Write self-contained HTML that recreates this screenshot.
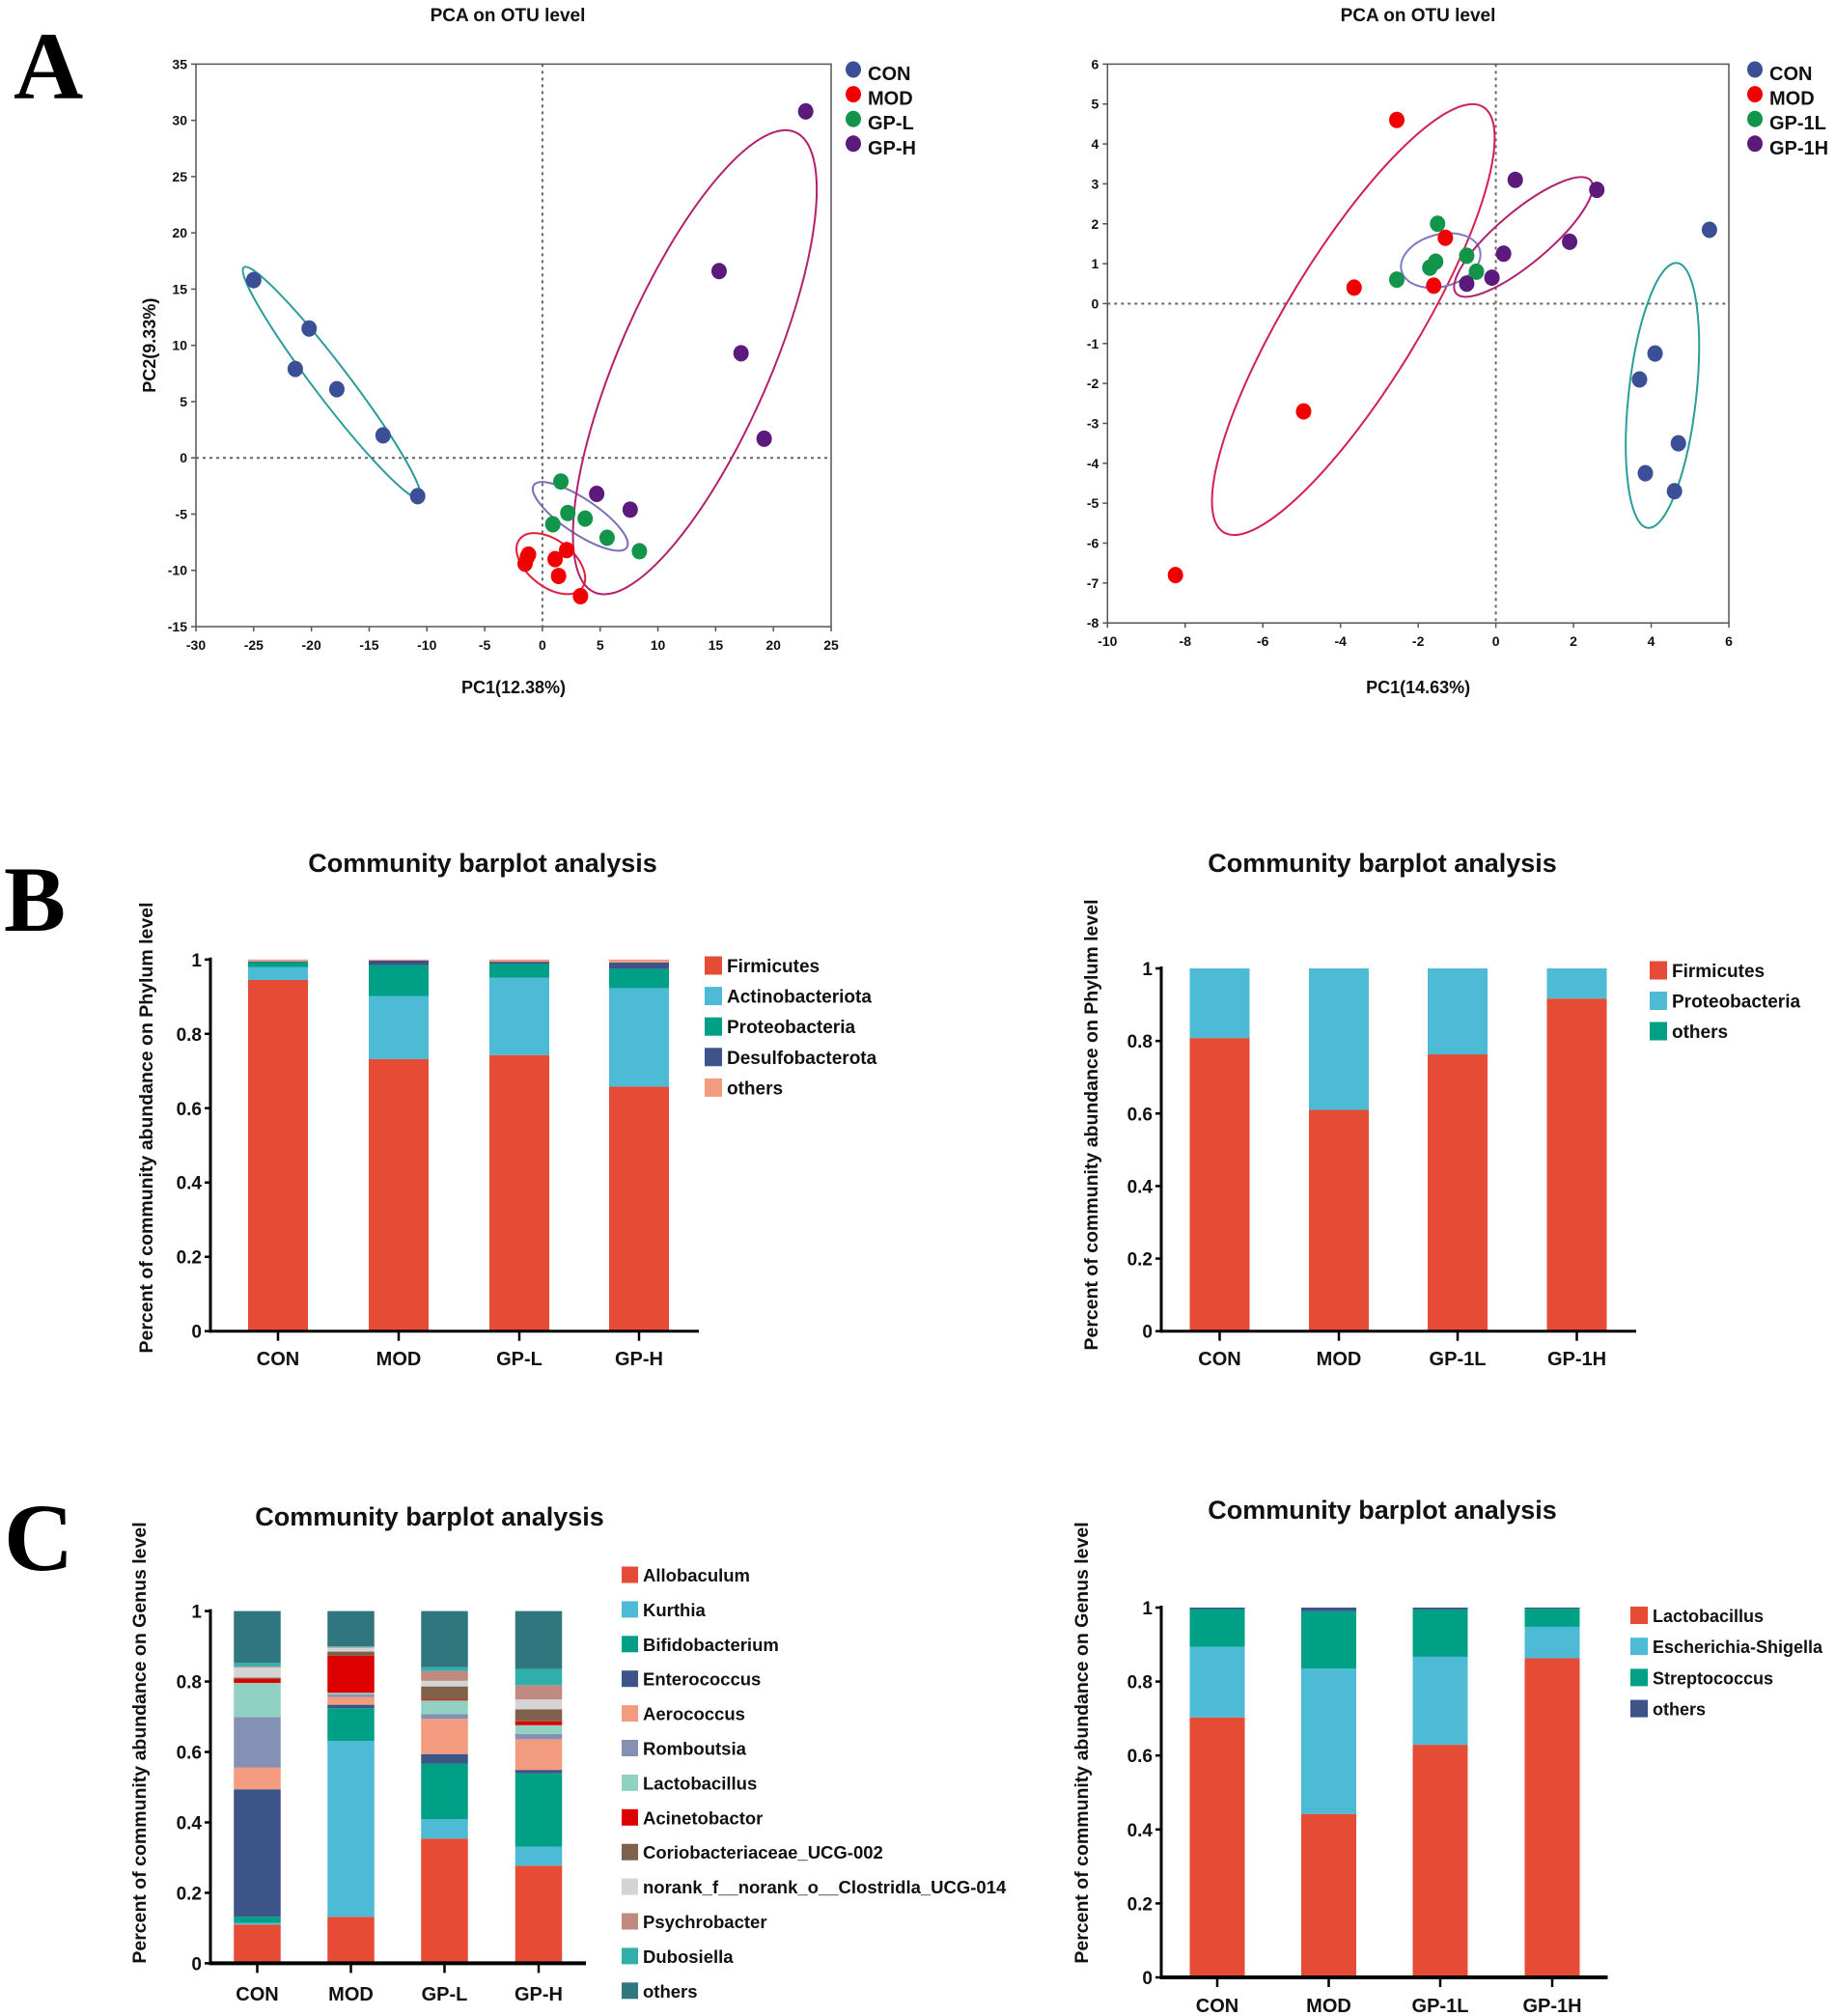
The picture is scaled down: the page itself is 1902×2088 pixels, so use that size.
<!DOCTYPE html>
<html><head><meta charset="utf-8">
<style>
html,body{margin:0;padding:0;background:#fff;}
svg{display:block;}
text{font-family:"Liberation Sans Narrow","Liberation Sans",Arial,sans-serif;font-weight:bold;fill:#111;}
.wide{font-family:"Liberation Sans",Arial,sans-serif;}
.big{font-family:"Liberation Serif","Times New Roman",serif;font-weight:bold;fill:#000;}
</style></head>
<body>
<svg id="fig" width="1902" height="2088" viewBox="0 0 1902 2088" xmlns="http://www.w3.org/2000/svg">
<text class="big" x="14" y="102" font-size="100">A</text>
<text class="big" x="4" y="964" font-size="96">B</text>
<text class="big" x="4" y="1626" font-size="100">C</text>
</svg>
<script>
// ---------- PCA data (left) ----------
const pcaLeftGroups = ["CON","MOD","GP-L","GP-H"];
const pcaLeftCON_x = [-25,-20.2,-21.4,-17.8,-13.8,-10.8];
const pcaLeftCON_y = [15.8,11.5,7.9,6.1,2,-3.4];
const pcaLeftMOD_x = [-1.3,-1.5,1.1,2.1,1.4,3.3,-1.2];
const pcaLeftMOD_y = [-8.8,-9.4,-9,-8.2,-10.5,-12.3,-8.6];
const pcaLeftGPL_x = [1.6,2.2,3.7,0.9,5.6,8.4];
const pcaLeftGPL_y = [-2.1,-4.9,-5.4,-5.9,-7.1,-8.3];
const pcaLeftGPH_x = [22.8,15.3,17.2,19.2,4.7,7.6];
const pcaLeftGPH_y = [30.8,16.6,9.3,1.7,-3.2,-4.6];
const pcaLeftXTicks = [-30,-25,-20,-15,-10,-5,0,5,10,15,20,25];
const pcaLeftYTicks = [-15,-10,-5,0,5,10,15,20,25,30,35];
const pcaLeftEllCx = [-18.25,0.73,3.28,13.2];
const pcaLeftEllCy = [6.7,-9.4,-5.2,8.5];

// ---------- PCA data (right) ----------
const pcaRightGroups = ["CON","MOD","GP-1L","GP-1H"];
const pcaRightCON_x = [5.5,4.1,3.7,4.7,3.85,4.6];
const pcaRightCON_y = [1.85,-1.25,-1.9,-3.5,-4.25,-4.7];
const pcaRightMOD_x = [-2.55,-3.65,-1.3,-1.6,-4.95,-8.25];
const pcaRightMOD_y = [4.6,0.4,1.65,0.45,-2.7,-6.8];
const pcaRightGPL_x = [-1.5,-1.55,-1.7,-0.75,-0.5,-2.55];
const pcaRightGPL_y = [2.0,1.05,0.9,1.2,0.8,0.6];
const pcaRightGPH_x = [0.5,2.6,1.9,0.2,-0.1,-0.75];
const pcaRightGPH_y = [3.1,2.85,1.55,1.25,0.65,0.5];
const pcaRightXTicks = [-10,-8,-6,-4,-2,0,2,4,6];
const pcaRightYTicks = [-8,-7,-6,-5,-4,-3,-2,-1,0,1,2,3,4,5,6];
const pcaRightEllCx = [4.29,-3.67,-1.42,0.71];
const pcaRightEllCy = [-2.30,-0.40,1.08,1.67];

// ---------- Bar B left ----------
const bLeftCats = ["CON","MOD","GP-L","GP-H"];
const bLeftSeriesNames = ["Firmicutes","Actinobacteriota","Proteobacteria","Desulfobacterota","others"];
const bLeftFirmicutes = [0.945,0.732,0.743,0.658];
const bLeftActino = [0.035,0.170,0.208,0.265];
const bLeftProteo = [0.013,0.083,0.037,0.052];
const bLeftDesulfo = [0.002,0.012,0.006,0.017];
const bLeftOthers = [0.005,0.003,0.006,0.008];
// ---------- Bar B right ----------
const bRightCats = ["CON","MOD","GP-1L","GP-1H"];
const bRightSeriesNames = ["Firmicutes","Proteobacteria","others"];
const bRightFirmicutes = [0.808,0.610,0.763,0.917];
const bRightProteo = [0.192,0.390,0.237,0.083];
const bRightOthers = [0,0,0,0];
// ---------- Bar C left ----------
const cLeftCats = ["CON","MOD","GP-L","GP-H"];
const cLeftSeriesNames = ["Allobaculum","Kurthia","Bifidobacterium","Enterococcus","Aerococcus","Romboutsia","Lactobacillus","Acinetobactor","Coriobacteriaceae_UCG-002","norank_f__norank_o__Clostridla_UCG-014","Psychrobacter","Dubosiella","others"];
const cLeftCON = [0.110,0.005,0.017,0.362,0.062,0.143,0.097,0.012,0.003,0.029,0.003,0.010,0.147];
const cLeftMOD = [0.132,0.499,0.093,0.010,0.022,0.007,0.005,0.105,0.012,0.011,0.002,0.002,0.100];
const cLeftGPL = [0.354,0.055,0.158,0.027,0.100,0.013,0.039,0.003,0.037,0.016,0.028,0.011,0.159];
const cLeftGPH = [0.277,0.054,0.208,0.010,0.087,0.015,0.025,0.011,0.034,0.028,0.041,0.046,0.164];
// ---------- Bar C right ----------
const cRightCats = ["CON","MOD","GP-1L","GP-1H"];
const cRightSeriesNames = ["Lactobacillus","Escherichia-Shigella","Streptococcus","others"];
const cRightLacto = [0.703,0.442,0.629,0.863];
const cRightEsch = [0.191,0.393,0.238,0.085];
const cRightStrep = [0.102,0.155,0.128,0.049];
const cRightOthers = [0.004,0.010,0.005,0.003];
const barTicks = ["0","0.2","0.4","0.6","0.8","1"];

const NS = "http://www.w3.org/2000/svg";
const svg = document.getElementById("fig");
function mk(tag, attrs, parent, txt){
  const e = document.createElementNS(NS, tag);
  for (const k in attrs) e.setAttribute(k, attrs[k]);
  if (txt !== undefined) e.textContent = txt;
  (parent || svg).appendChild(e);
  return e;
}
function scale(d0,d1,p0,p1){ return v => p0 + (v-d0)*(p1-p0)/(d1-d0); }

function drawPCA(o){
  const g = mk("g",{});
  
  
  const X = scale(o.xd[0],o.xd[1],o.px[0],o.px[1]);
  const Y = scale(o.yd[0],o.yd[1],o.py[0],o.py[1]);
  const box = mk("rect",{x:o.px[0],y:o.py[1],width:o.px[1]-o.px[0],height:o.py[0]-o.py[1],fill:"none",stroke:"#555","stroke-width":1.5},g);
  
  
  const vz = mk("line",{x1:X(0),x2:X(0),y1:o.py[1],y2:o.py[0],stroke:"#666","stroke-width":2,"stroke-dasharray":"3,4"},g);
  
  
  const hz = mk("line",{x1:o.px[0],x2:o.px[1],y1:Y(0),y2:Y(0),stroke:"#666","stroke-width":2,"stroke-dasharray":"3,4"},g);
  
  
  o.xt.forEach(t=>{
    mk("line",{x1:X(t),x2:X(t),y1:o.py[0],y2:o.py[0]+5,stroke:"#555","stroke-width":1.5},g);
    const tl = mk("text",{x:X(t),y:o.py[0]+24,"font-size":14,"text-anchor":"middle"},g,String(t));
    
    
  });
  o.yt.forEach(t=>{
    mk("line",{x1:o.px[0]-5,x2:o.px[0],y1:Y(t),y2:Y(t),stroke:"#555","stroke-width":1.5},g);
    const tl = mk("text",{x:o.px[0]-9,y:Y(t)+5,"font-size":14,"text-anchor":"end"},g,String(t));
    
    
  });
  o.ell.forEach((e,i)=>{
    const cx = X(o.ellCx[i]), cy = Y(o.ellCy[i]);
    const el = mk("ellipse",{cx:0,cy:0,rx:e.rx,ry:e.ry,transform:`translate(${cx},${cy}) rotate(${e.a})`,fill:"none",stroke:e.c,"stroke-width":2},g);
    
    
  });
  o.pts.forEach((p,i)=>{
    p.x.forEach((v,j)=>{
      const c = mk("ellipse",{cx:X(v),cy:Y(p.y[j]),rx:8,ry:8.5,fill:o.colors[i]},g);
      
      
    });
  });
  const tt = mk("text",{x:o.titleX,y:22,"font-size":19,"text-anchor":"middle",class:"wide"},g,"PCA on OTU level");
  
  
  const xl = mk("text",{x:(o.px[0]+o.px[1])/2,y:718,"font-size":18,"text-anchor":"middle",class:"wide"},g,o.xlabel);
  
  
  if (o.ylabel){
    const yl = mk("text",{x:0,y:0,"font-size":18,"text-anchor":"middle",class:"wide",transform:`translate(${o.ylx},${(o.py[0]+o.py[1])/2}) rotate(-90)`},g,o.ylabel);
    
    
  }
  o.groups.forEach((n,i)=>{
    const ly = 72 + i*25.6;
    const lm = mk("ellipse",{cx:o.legX,cy:ly,rx:8,ry:8.5,fill:o.colors[i]},g);
    
    
    const lt = mk("text",{x:o.legX+15,y:ly+11,"font-size":20,class:"wide"},g,n);
    
    
  });
}

const grpColors = ["#3a4f96","#f00000","#12954a","#5c1a7c"];
drawPCA({name:"pca-left",xd:[-30,25],px:[203,861],yd:[-15,35],py:[649,66.4],xt:pcaLeftXTicks,yt:pcaLeftYTicks,
  groups:pcaLeftGroups,colors:grpColors,
  pts:[{x:pcaLeftCON_x,y:pcaLeftCON_y},{x:pcaLeftMOD_x,y:pcaLeftMOD_y},{x:pcaLeftGPL_x,y:pcaLeftGPL_y},{x:pcaLeftGPH_x,y:pcaLeftGPH_y}],
  ellCx:pcaLeftEllCx,ellCy:pcaLeftEllCy,
  ell:[{rx:150,ry:18,a:52.7,c:"#2a9d9a"},{rx:41,ry:24,a:38,c:"#e0203a"},{rx:58,ry:18,a:33.8,c:"#7a70b4"},{rx:260,ry:78,a:-66.4,c:"#b3206c"}],
  titleX:526,xlabel:"PC1(12.38%)",ylabel:"PC2(9.33%)",ylx:161,legX:884});
drawPCA({name:"pca-right",xd:[-10,6],px:[1147.3,1791],yd:[-8,6],py:[645.2,66.4],xt:pcaRightXTicks,yt:pcaRightYTicks,
  groups:pcaRightGroups,colors:grpColors,
  pts:[{x:pcaRightCON_x,y:pcaRightCON_y},{x:pcaRightMOD_x,y:pcaRightMOD_y},{x:pcaRightGPL_x,y:pcaRightGPL_y},{x:pcaRightGPH_x,y:pcaRightGPH_y}],
  ellCx:pcaRightEllCx,ellCy:pcaRightEllCy,
  ell:[{rx:138,ry:35,a:96.3,c:"#2a9d9a"},{rx:258,ry:68,a:-58.6,c:"#d42050"},{rx:42,ry:27,a:-15,c:"#7a78c0"},{rx:91,ry:27,a:-40,c:"#b02070"}],
  titleX:1469,xlabel:"PC1(14.63%)",ylabel:null,legX:1818});

function drawBars(o){
  const g = mk("g",{});
  
  
  const Y = scale(0,1,o.y0,o.y1);
  o.cats.forEach((c,ci)=>{
    let acc = 0;
    o.series.forEach((s,si)=>{
      const v = s[ci];
      if (v<=0){ return; }
      const yTop = Y(acc+v), yBot = Y(acc);
      const r = mk("rect",{x:o.centers[ci]-o.bw/2,y:yTop,width:o.bw,height:yBot-yTop,fill:o.colors[si]},g);
      
      
      acc += v;
    });
  });
  const ya = mk("line",{x1:o.ax,x2:o.ax,y1:o.y1-2,y2:o.y0+1.5,stroke:"#000","stroke-width":3},g);
  
  
  const xa = mk("line",{x1:o.ax-1.5,x2:o.axEnd,y1:o.y0,y2:o.y0,stroke:"#000","stroke-width":o.xw||3},g);
  
  
  barTicks.forEach(t=>{
    const v = parseFloat(t);
    mk("line",{x1:o.ax-6,x2:o.ax,y1:Y(v),y2:Y(v),stroke:"#000","stroke-width":2.5},g);
    const tl = mk("text",{x:o.ax-9,y:Y(v)+7,"font-size":19,"text-anchor":"end"},g,t);
    
    
  });
  o.cats.forEach((c,ci)=>{
    mk("line",{x1:o.centers[ci],x2:o.centers[ci],y1:o.y0,y2:o.y0+10,stroke:"#000","stroke-width":2.5},g);
    const tl = mk("text",{x:o.centers[ci],y:o.catY,"font-size":20,"text-anchor":"middle"},g,c);
    
    
  });
  const tt = mk("text",{x:o.titleX,y:o.titleY,"font-size":27,"text-anchor":"middle"},g,"Community barplot analysis");
  
  
  const yl = mk("text",{x:0,y:0,"font-size":19.5,"text-anchor":"middle",class:"wide",transform:`translate(${o.ylx},${o.yly}) rotate(-90)`},g,o.ylabel);
  
  
  o.names.forEach((n,i)=>{
    const ly = o.legY + i*o.legStep;
    const sq = mk("rect",{x:o.legX,y:ly-o.sq/2,width:o.sqw,height:o.sq,fill:o.colors[i]},g);
    
    
    const lt = mk("text",{x:o.legX+o.sqw+5,y:ly+7,"font-size":o.legFs},g,n);
    
    
  });
}

drawBars({name:"barplot-phylum-left",cats:bLeftCats,names:bLeftSeriesNames,
  series:[bLeftFirmicutes,bLeftActino,bLeftProteo,bLeftDesulfo,bLeftOthers],
  colors:["#e64b35","#4dbbd5","#00a087","#3c5488","#f39b7f"],
  y0:1378.7,y1:993.8,ax:218,axEnd:724,centers:[288,413,538,662],bw:62,catY:1414,
  titleX:500,titleY:903,ylabel:"Percent of community abundance on Phylum level",ylx:158,yly:1168,
  legX:730,legY:1000,legStep:31.6,sq:19,sqw:18,legFs:19});
drawBars({name:"barplot-phylum-right",cats:bRightCats,names:bRightSeriesNames,
  series:[bRightFirmicutes,bRightProteo,bRightOthers],
  colors:["#e64b35","#4dbbd5","#00a087"],
  y0:1378.7,y1:1003,ax:1203,axEnd:1695,centers:[1263.5,1387,1510,1633.5],bw:62,catY:1414,
  titleX:1432,titleY:903,ylabel:"Percent of community abundance on Phylum level",ylx:1137,yly:1165,
  legX:1709,legY:1005,legStep:31.5,sq:19,sqw:18,legFs:19});
drawBars({name:"barplot-genus-left",cats:cLeftCats,names:cLeftSeriesNames,
  series:cLeftSeriesNames.map((n,i)=>[cLeftCON[i],cLeftMOD[i],cLeftGPL[i],cLeftGPH[i]]),
  colors:["#e64b35","#4dbbd5","#00a087","#3c5488","#f39b7f","#8491b4","#91d1c2","#dc0000","#7e6148","#d4d4d4","#c08a80","#2fb0ad","#30767f"],
  y0:2033.4,y1:1668.6,ax:218,axEnd:607,xw:4,centers:[266.5,363.5,460.5,558],bw:48.5,catY:2072,
  titleX:445,titleY:1580,ylabel:"Percent of community abundance on Genus level",ylx:151,yly:1805,
  legX:644,legY:1631,legStep:35.9,sq:17,sqw:17,legFs:18.5});
drawBars({name:"barplot-genus-right",cats:cRightCats,names:cRightSeriesNames,
  series:[cRightLacto,cRightEsch,cRightStrep,cRightOthers],
  colors:["#e64b35","#4dbbd5","#00a087","#3c5488"],
  y0:2048,y1:1665,ax:1203,axEnd:1665.5,xw:4,centers:[1261,1376.5,1492,1608],bw:57,catY:2084,
  titleX:1432,titleY:1573,ylabel:"Percent of community abundance on Genus level",ylx:1127,yly:1805,
  legX:1689,legY:1673,legStep:32.2,sq:18,sqw:18,legFs:18});
</script>
</body></html>
